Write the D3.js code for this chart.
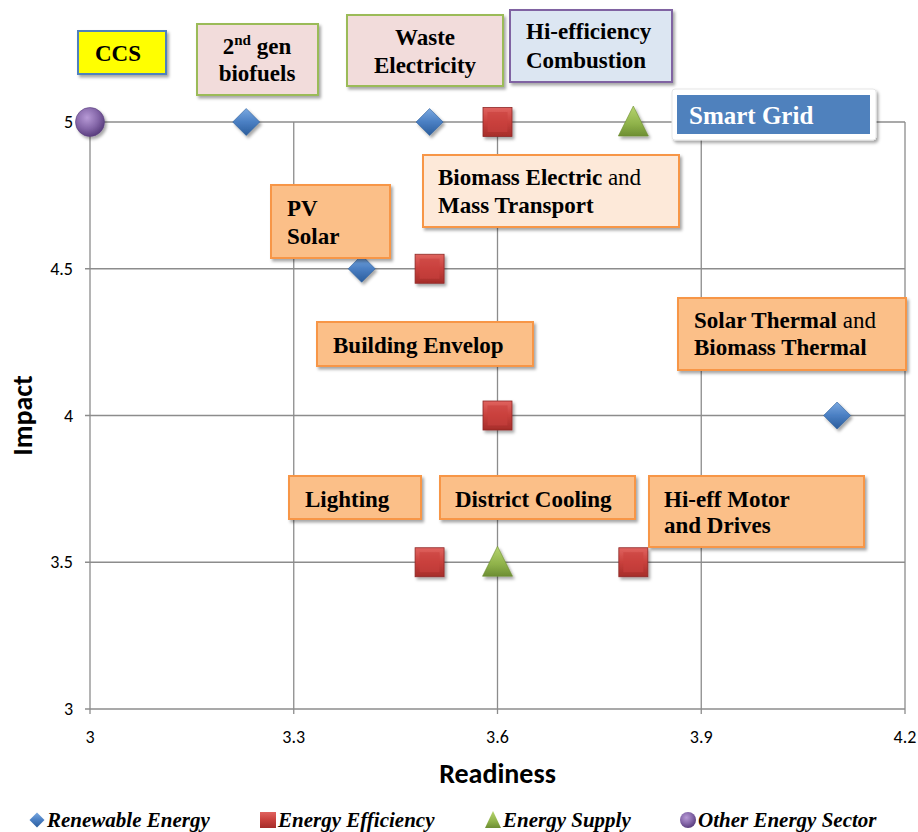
<!DOCTYPE html>
<html>
<head>
<meta charset="utf-8">
<script src="https://cdn.jsdelivr.net/npm/d3@7"></script>
<style>
  body { margin: 0; background: #fff; }
  svg { display: block; }
</style>
</head>
<body>
<svg id="chart"></svg>
<script>
// Series data: [readiness, impact]
const renewable = [[3.23, 5], [3.5, 5], [3.4, 4.5], [4.1, 4]];
const efficiency = [[3.6, 5], [3.5, 4.5], [3.6, 4], [3.5, 3.5], [3.8, 3.5]];
const supply = [[3.8, 5], [3.6, 3.5]];
const other = [[3, 5]];

const xTicks = [3, 3.3, 3.6, 3.9, 4.2];
const yTicks = [3, 3.5, 4, 4.5, 5];
const seriesNames = ['Renewable Energy', 'Energy Efficiency', 'Energy Supply', 'Other Energy Sector'];

// Callout texts (each line is a list of [text, bold, sup])
const calloutTexts = [
  [[['CCS', true]]],
  [[['2', true], ['nd', true, 'sup'], [' gen', true, 'base']], [['biofuels', true]]],
  [[['Waste', true]], [['Electricity', true]]],
  [[['Hi-efficiency', true]], [['Combustion', true]]],
  [[['Smart Grid', true]]],
  [[['Biomass Electric', true], [' and', false]], [['Mass Transport', true]]],
  [[['PV', true]], [['Solar', true]]],
  [[['Building Envelop', true]]],
  [[['Solar Thermal', true], [' and', false]], [['Biomass Thermal', true]]],
  [[['Lighting', true]]],
  [[['District Cooling', true]]],
  [[['Hi-eff Motor', true]], [['and Drives', true]]]
];

const W = 918, H = 832;
const margin = { left: 90, right: 13, top: 122, bottom: 123 };
const iw = W - margin.left - margin.right;
const ih = H - margin.top - margin.bottom;

const svg = d3.select('#chart').attr('width', W).attr('height', H);
const defs = svg.append('defs');

const x = d3.scaleLinear().domain([3, 4.2]).range([margin.left, margin.left + iw]);
const y = d3.scaleLinear().domain([3, 5]).range([margin.top + ih, margin.top]);

// shadow
const sh = defs.append('filter').attr('id', 'shadow')
  .attr('x', '-10%').attr('y', '-10%').attr('width', '130%').attr('height', '140%');
sh.append('feDropShadow').attr('dx', 2).attr('dy', 2.5).attr('stdDeviation', 1.6)
  .attr('flood-color', '#000').attr('flood-opacity', 0.35);

const grad = (id, stops) => {
  const g = defs.append('linearGradient').attr('id', id)
    .attr('x1', 0).attr('y1', 0).attr('x2', 0).attr('y2', 1);
  stops.forEach(([o, c]) => g.append('stop').attr('offset', o).attr('stop-color', c));
};
grad('gBlue', [[0, '#7aa8e0'], [0.5, '#4a7fc3'], [1, '#2b5d9c']]);
grad('gRed', [[0, '#e0635f'], [0.5, '#c8403c'], [1, '#a52d2a']]);
grad('gGreen', [[0, '#b6d46e'], [0.6, '#8fb24a'], [1, '#6d8e33']]);
const rg = defs.append('radialGradient').attr('id', 'gPurple')
  .attr('cx', '40%').attr('cy', '35%').attr('r', '65%');
rg.append('stop').attr('offset', 0).attr('stop-color', '#b79ad6');
rg.append('stop').attr('offset', 0.6).attr('stop-color', '#8466a8');
rg.append('stop').attr('offset', 1).attr('stop-color', '#5b3f7f');

const sansFont = "Carlito, 'Liberation Sans', sans-serif";
const serifFont = "'Liberation Serif', 'Times New Roman', serif";

// grid + frame
const grid = svg.append('g');
grid.selectAll('.vg').data(xTicks).join('line')
  .attr('x1', d => x(d)).attr('x2', d => x(d))
  .attr('y1', y(5)).attr('y2', y(3) + 5)
  .attr('stroke', '#8c8c8c').attr('stroke-width', 1.3);
grid.selectAll('.hg').data(yTicks).join('line')
  .attr('x1', x(3) - 5).attr('x2', x(4.2))
  .attr('y1', d => y(d)).attr('y2', d => y(d))
  .attr('stroke', '#8c8c8c').attr('stroke-width', 1.3);

// tick labels
svg.append('g').selectAll('text').data(yTicks).join('text')
  .attr('x', x(3) - 17).attr('y', d => y(d) + 6)
  .attr('text-anchor', 'end').style('font-family', sansFont).attr('font-size', 18)
  .text(d => d3.format('')(d));
svg.append('g').selectAll('text').data(xTicks).join('text')
  .attr('x', d => x(d)).attr('y', y(3) + 34)
  .attr('text-anchor', 'middle').style('font-family', sansFont).attr('font-size', 18)
  .text(d => d3.format('')(d));

// axis titles
svg.append('text').attr('x', x(3.6)).attr('y', 783)
  .attr('text-anchor', 'middle').style('font-family', sansFont)
  .attr('font-weight', 'bold').attr('font-size', 28).text('Readiness');
svg.append('text').attr('transform', `translate(32, ${y(4)}) rotate(-90)`)
  .attr('text-anchor', 'middle').style('font-family', sansFont)
  .attr('font-weight', 'bold').attr('font-size', 28).text('Impact');

// callout layout (pixel boxes: x, y, w, h, fill, stroke, align, text x, first baseline, line gap)
const calloutBoxes = [
  { b: [78, 31, 88, 43], fill: '#ffff00', stroke: '#4f81bd', anchor: 'middle', tx: 118, ty: 61, gap: 0 },
  { b: [197, 24, 121, 71], fill: '#f2dcdb', stroke: '#9bbb59', anchor: 'middle', tx: 257, ty: 54, gap: 27 },
  { b: [347, 15, 156, 71], fill: '#f2dcdb', stroke: '#9bbb59', anchor: 'middle', tx: 425, ty: 45, gap: 28 },
  { b: [510, 10, 162, 72], fill: '#dce6f2', stroke: '#8064a2', anchor: 'start', tx: 526, ty: 39, gap: 29 },
  { b: [677, 95, 193, 39], fill: '#4f81bd', stroke: 'none', anchor: 'start', tx: 689, ty: 124, gap: 0, color: '#fff', size: 25, outer: [672, 89, 204, 51] },
  { b: [423, 155, 256, 72], fill: '#fde9d9', stroke: '#f79646', anchor: 'start', tx: 438, ty: 185, gap: 28 },
  { b: [271, 185, 119, 73], fill: '#fbbf88', stroke: '#f79646', anchor: 'start', tx: 287, ty: 216, gap: 28 },
  { b: [317, 322, 216, 44], fill: '#fbbf88', stroke: '#f79646', anchor: 'start', tx: 333, ty: 353, gap: 0 },
  { b: [678, 298, 228, 72], fill: '#fbbf88', stroke: '#f79646', anchor: 'start', tx: 694, ty: 328, gap: 27 },
  { b: [289, 476, 132, 43], fill: '#fbbf88', stroke: '#f79646', anchor: 'start', tx: 305, ty: 507, gap: 0 },
  { b: [440, 476, 195, 43], fill: '#fbbf88', stroke: '#f79646', anchor: 'start', tx: 455, ty: 507, gap: 0 },
  { b: [649, 476, 215, 71], fill: '#fbbf88', stroke: '#f79646', anchor: 'start', tx: 664, ty: 507, gap: 26 }
];

const diamondPath = s => `M0,${-s}L${s},0L0,${s}L${-s},0Z`;

// markers
const marks = svg.append('g');
marks.selectAll('.ren').data(renewable).join('path')
  .attr('transform', d => `translate(${x(d[0])},${y(d[1])})`)
  .attr('d', diamondPath(13.5)).attr('fill', 'url(#gBlue)')
  .attr('stroke', '#2f5f9a').attr('stroke-width', 0.6).attr('filter', 'url(#shadow)');
marks.selectAll('.eff').data(efficiency).join('rect')
  .attr('x', d => x(d[0]) - 14.5).attr('y', d => y(d[1]) - 14.5)
  .attr('width', 29).attr('height', 29).attr('fill', 'url(#gRed)')
  .attr('stroke', '#8e2a27').attr('stroke-width', 0.8).attr('filter', 'url(#shadow)');
marks.selectAll('.effi').data(efficiency).join('rect')
  .attr('x', d => x(d[0]) - 10).attr('y', d => y(d[1]) - 10)
  .attr('width', 20).attr('height', 20).attr('fill', '#c9413d').attr('opacity', 0.6);
marks.selectAll('.sup').data(supply).join('path')
  .attr('transform', d => `translate(${x(d[0])},${y(d[1])})`)
  .attr('d', 'M0,-16L15,14L-15,14Z').attr('fill', 'url(#gGreen)')
  .attr('stroke', '#6d8e33').attr('stroke-width', 0.6).attr('filter', 'url(#shadow)');
marks.selectAll('.oth').data(other).join('circle')
  .attr('cx', d => x(d[0])).attr('cy', d => y(d[1])).attr('r', 14.5)
  .attr('fill', 'url(#gPurple)').attr('stroke', '#5b3f7f').attr('stroke-width', 0.6)
  .attr('filter', 'url(#shadow)');

// callouts
const notes = svg.append('g');
calloutBoxes.forEach((c, i) => {
  const g = notes.append('g');
  if (c.outer) {
    g.append('rect').attr('x', c.outer[0]).attr('y', c.outer[1])
      .attr('width', c.outer[2]).attr('height', c.outer[3]).attr('rx', 3)
      .attr('fill', '#fff').attr('stroke', '#e6e6e6').attr('filter', 'url(#shadow)');
  }
  g.append('rect').attr('x', c.b[0]).attr('y', c.b[1]).attr('width', c.b[2]).attr('height', c.b[3])
    .attr('fill', c.fill).attr('stroke', c.stroke).attr('stroke-width', 2)
    .attr('filter', c.outer ? null : 'url(#shadow)');
  calloutTexts[i].forEach((line, li) => {
    const t = g.append('text').attr('x', c.tx).attr('y', c.ty + li * c.gap)
      .attr('text-anchor', c.anchor).style('font-family', serifFont)
      .attr('font-size', c.size || 23).attr('fill', c.color || '#000');
    line.forEach(([s, bold, pos]) => {
      const ts = t.append('tspan').text(s).attr('font-weight', bold ? 'bold' : 'normal');
      if (pos === 'sup') ts.attr('font-size', 15).attr('dy', -9);
      if (pos === 'base') ts.attr('dy', 9);
    });
  });
});

// legend
const legendX = [37, 268, 493, 688];
const lg = svg.append('g').attr('transform', 'translate(0, 820)');
seriesNames.forEach((name, i) => {
  const g = lg.append('g').attr('transform', `translate(${legendX[i]},0)`);
  if (i === 0) g.append('path').attr('d', diamondPath(7.5)).attr('fill', 'url(#gBlue)');
  if (i === 1) g.append('rect').attr('x', -8).attr('y', -8).attr('width', 16).attr('height', 16).attr('fill', 'url(#gRed)');
  if (i === 2) g.append('path').attr('d', 'M0,-9L8,8L-8,8Z').attr('fill', 'url(#gGreen)');
  if (i === 3) g.append('circle').attr('r', 8).attr('fill', 'url(#gPurple)');
  g.append('text').attr('x', 10).attr('y', 7).style('font-family', serifFont)
    .attr('font-style', 'italic').attr('font-weight', 'bold').attr('font-size', 21).text(name);
});
</script>
</body>
</html>
